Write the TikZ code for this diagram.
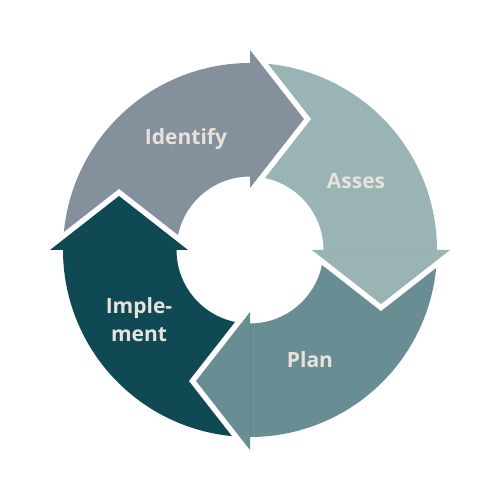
\documentclass[tikz,border=0pt]{standalone}
\usepackage{fontspec}
\setmainfont{Open Sans}
\definecolor{identifycol}{HTML}{84909C}
\definecolor{assescol}{HTML}{9AB3B5}
\definecolor{plancol}{HTML}{688E93}
\definecolor{implementcol}{HTML}{0F4A54}
\definecolor{labelcol}{HTML}{E9E2DB}
\newcommand{\cyclebody}[2]
{   \fill[#2] ({#1+90}:187) arc ({#1+90}:{#1-1}:187) -- ({#1-1}:73.5) arc ({#1-1}:{#1+90}:73.5) -- cycle;
}
\newcommand{\cyclehead}[2]
{   \begin{scope}[rotate=#1]
    \draw[white,line width=11pt] (200,0) -- (131,-54) -- (62,0);
    \fill[#2] (200,0) -- (131,-54) -- (62,0) -- cycle;
    \end{scope}
}
\tikzset{cyclelabel/.style={text=labelcol,font=\fontsize{21}{28}\selectfont\bfseries,align=center}}

\begin{document}
\begin{tikzpicture}[x=1pt,y=1pt]
 \useasboundingbox (-250,-250) rectangle (250,250);

 \cyclebody{90}{identifycol} \cyclebody{0}{assescol}
 \cyclebody{-90}{plancol} \cyclebody{180}{implementcol}
 \cyclehead{90}{identifycol} \cyclehead{0}{assescol}
 \cyclehead{-90}{plancol} \cyclehead{180}{implementcol}
   \draw (-64,111) node[cyclelabel] (identify) {Identify};
   \draw (106,69) node[cyclelabel] (asses) {Asses};
   \draw (60,-109.5) node[cyclelabel] (plan) {Plan};
   \draw (-111,-70) node[cyclelabel] (implement) {Imple-\\ment};

\end{tikzpicture}
\end{document}
